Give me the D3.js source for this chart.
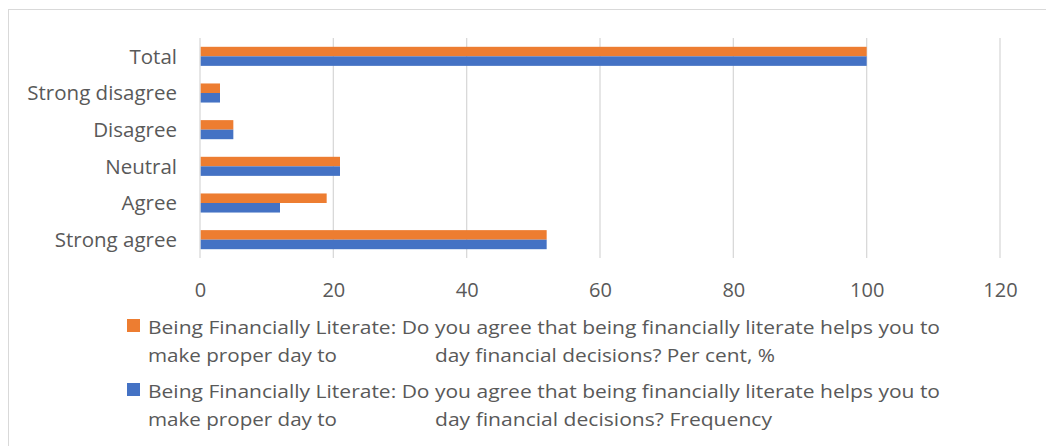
<!DOCTYPE html>
<html>
<head>
<meta charset="utf-8">
<script src="https://cdn.jsdelivr.net/npm/d3@7"></script>
<style>
  html, body { margin: 0; padding: 0; background: #fff; }
  svg text { font-family: "Open Sans", Lato, sans-serif; fill: #595959; }
</style>
</head>
<body>
<svg id="chart" width="1046" height="446"></svg>
<script>
// Survey answers, listed top to bottom as shown on the axis
const categories = ["Total", "Strong disagree", "Disagree", "Neutral", "Agree", "Strong agree"];
const perCent   = [100, 3, 5, 21, 19, 52];
const frequency = [100, 3, 5, 21, 12, 52];
const xTicks = [0, 20, 40, 60, 80, 100, 120];

const seriesNames = ["perCent", "frequency"];
const seriesColors = ["#ED7D31", "#4472C4"];
const legendLines = [
  ["Being Financially Literate: Do you agree that being financially literate helps you to",
   "make proper day to", "day financial decisions? Per cent, %"],
  ["Being Financially Literate: Do you agree that being financially literate helps you to",
   "make proper day to", "day financial decisions? Frequency"]
];

const rows = categories.map((c, i) => ({ cat: c, perCent: perCent[i], frequency: frequency[i] }));

const svg = d3.select("#chart");

// outer chart frame
svg.append("rect")
  .attr("x", 8.5).attr("y", 9.5).attr("width", 1200).attr("height", 600)
  .attr("fill", "none").attr("stroke", "#D9D9D9").attr("stroke-width", 1);

const plot = { left: 200, right: 1000, top: 38, bottom: 258 };

const x = d3.scaleLinear().domain([0, 120]).range([plot.left, plot.right]);
const y = d3.scaleBand().domain(categories).range([plot.top, plot.bottom])
  .paddingInner(0.48).paddingOuter(0.24);
const ySub = d3.scaleBand().domain(seriesNames).range([0, y.bandwidth()]);

// vertical gridlines
svg.append("g").selectAll("line").data(xTicks).join("line")
  .attr("x1", d => x(d)).attr("x2", d => x(d))
  .attr("y1", plot.top).attr("y2", plot.bottom)
  .attr("stroke", "#D9D9D9").attr("stroke-width", 1.3);

// bars
const groups = svg.append("g").selectAll("g").data(rows).join("g")
  .attr("transform", d => `translate(0,${y(d.cat)})`);
seriesNames.forEach((s, si) => {
  groups.append("rect")
    .attr("x", x(0) + 0.7)
    .attr("y", ySub(s))
    .attr("width", d => x(d[s]) - x(0) - 0.7)
    .attr("height", ySub.bandwidth())
    .attr("fill", seriesColors[si]);
});

// x axis labels
const xAxis = d3.axisBottom(x).tickValues(xTicks).tickSize(0).tickPadding(0);
const gx = svg.append("g").attr("transform", `translate(0,${plot.bottom})`).call(xAxis);
gx.select(".domain").remove();
gx.selectAll("text").attr("dy", null).attr("y", 39)
  .style("font-size", "20px").attr("fill", "#595959");

// y axis labels
const yAxis = d3.axisLeft(y).tickSize(0).tickPadding(0);
const gy = svg.append("g").attr("transform", `translate(${plot.left - 23},0)`).call(yAxis);
gy.select(".domain").remove();
gy.selectAll("text").attr("dy", "0.36em")
  .style("font-size", "20.5px").attr("fill", "#595959");

// legend
const legendTop = [319, 383];
legendLines.forEach((lines, i) => {
  const g = svg.append("g");
  g.append("rect").attr("x", 127).attr("y", legendTop[i]).attr("width", 13).attr("height", 13)
    .attr("fill", seriesColors[i]);
  const base = legendTop[i] + 15;
  g.append("text").attr("x", 148).attr("y", base).text(lines[0])
    .style("font-size", "19px").attr("textLength", 792).attr("lengthAdjust", "spacingAndGlyphs");
  g.append("text").attr("x", 148).attr("y", base + 28).text(lines[1])
    .style("font-size", "19px").attr("textLength", 189).attr("lengthAdjust", "spacingAndGlyphs");
  g.append("text").attr("x", 435).attr("y", base + 28).text(lines[2])
    .style("font-size", "19px").attr("textLength", i === 0 ? 340 : 337).attr("lengthAdjust", "spacingAndGlyphs");
});
</script>
</body>
</html>
